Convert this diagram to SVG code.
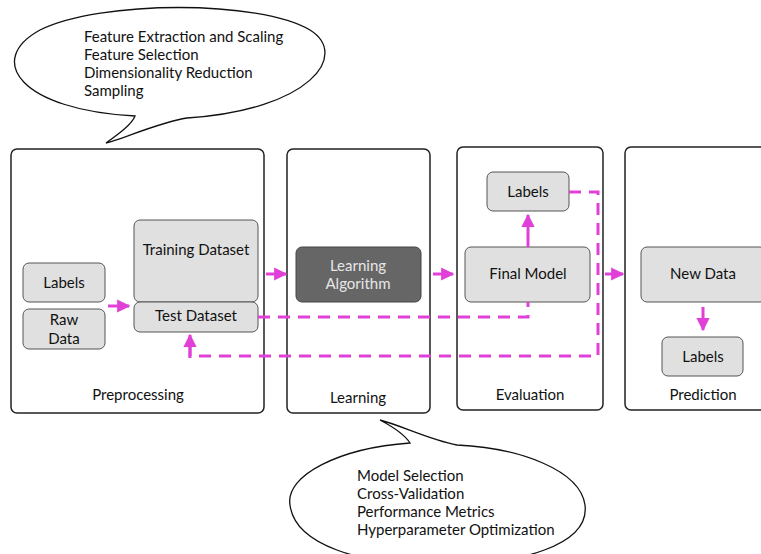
<svg xmlns="http://www.w3.org/2000/svg" width="761" height="554" viewBox="0 0 761 554">
<defs>
<style>
text{font-family:Lato,"Open Sans","DejaVu Sans",sans-serif;font-size:15px;fill:#111}
.stage{fill:#fff;stroke:#222;stroke-width:1.5}
.node{fill:#e0e0e0;stroke:#555;stroke-width:1}
.dark{fill:#666;stroke:#444;stroke-width:1}
.c{text-anchor:middle}
.flow{fill:none;stroke:#e040d8;stroke-width:3}
.dash{fill:none;stroke:#e040d8;stroke-width:3;stroke-dasharray:12 8}
.bubble{fill:#fff;stroke:#111;stroke-width:1.3}
</style>
<marker id="ah" viewBox="0 0 10 10" refX="9" refY="5" markerWidth="4.4" markerHeight="4.4" orient="auto" markerUnits="strokeWidth">
<path d="M0,0 L10,5 L0,10 z" fill="#e040d8"/>
</marker>
</defs>
<rect width="761" height="554" fill="#fff"/>

<g id="bubble-top">
<path class="bubble" d="M135,116 C20,110 -15,60 40,30 C100,0 260,0 310,30 C350,55 310,110 187,118 C160,122 120,140 106,143 C120,133 132,124 135,116 z"/>
<text x="84" y="42">Feature Extraction and Scaling</text>
<text x="84" y="60">Feature Selection</text>
<text x="84" y="78">Dimensionality Reduction</text>
<text x="84" y="96">Sampling</text>
</g>

<g id="preprocessing">
<rect class="stage" x="11" y="149" width="253" height="264" rx="6"/>
<text class="c" x="138" y="400">Preprocessing</text>
</g>
<g id="labels-raw"><rect class="node" x="23" y="263" width="82" height="39" rx="6"/><text class="c" x="64" y="288">Labels</text></g>
<g id="raw-data"><rect class="node" x="23" y="309" width="82" height="40" rx="6"/><text class="c" x="64" y="325">Raw</text><text class="c" x="64" y="344">Data</text></g>
<g id="training"><rect class="node" x="134" y="220" width="124" height="82" rx="6"/><text class="c" x="196" y="255">Training Dataset</text></g>
<g id="test"><rect class="node" x="134" y="302" width="124" height="30" rx="6"/><text class="c" x="196" y="321">Test Dataset</text></g>

<g id="learning">
<rect class="stage" x="287" y="149" width="143" height="264" rx="6"/>
<text class="c" x="358" y="403">Learning</text>
</g>
<g id="algorithm"><rect class="dark" x="296" y="247" width="125" height="55" rx="6"/><text class="c" x="358" y="271" style="fill:#e6e6e6">Learning</text><text class="c" x="358" y="289" style="fill:#e6e6e6">Algorithm</text></g>

<g id="evaluation">
<rect class="stage" x="457" y="147" width="146" height="263" rx="6"/>
<text class="c" x="530" y="400">Evaluation</text>
</g>
<g id="labels-eval"><rect class="node" x="487" y="172" width="82" height="39" rx="6"/><text class="c" x="528" y="197">Labels</text></g>
<g id="final-model"><rect class="node" x="465" y="247" width="125" height="55" rx="6"/><text class="c" x="528" y="279">Final Model</text></g>

<g id="prediction">
<rect class="stage" x="625" y="147" width="150" height="263" rx="6"/>
<text class="c" x="703" y="400">Prediction</text>
</g>
<g id="new-data"><rect class="node" x="641" y="247" width="125" height="55" rx="6"/><text class="c" x="703" y="279">New Data</text></g>
<g id="labels-pred"><rect class="node" x="662" y="337" width="81" height="39" rx="6"/><text class="c" x="703" y="362">Labels</text></g>

<g id="connectors">
<line class="flow" x1="108" y1="306" x2="129" y2="306" marker-end="url(#ah)"/>
<line class="flow" x1="266" y1="274" x2="286" y2="274" marker-end="url(#ah)"/>
<line class="flow" x1="433" y1="274" x2="453" y2="274" marker-end="url(#ah)"/>
<line class="flow" x1="605" y1="274" x2="623" y2="274" marker-end="url(#ah)"/>
<line class="flow" x1="528" y1="247" x2="528" y2="215" marker-end="url(#ah)"/>
<line class="flow" x1="703" y1="307" x2="703" y2="330" marker-end="url(#ah)"/>
<path class="dash" d="M258,317 L528,317 L528,302"/>
<path class="dash" d="M569,192 L598,192 L598,356 L190,356 L190,345"/>
<path class="flow" d="M190,358 L190,335" marker-end="url(#ah)"/>
</g>

<g id="bubble-bottom">
<path class="bubble" d="M410,443 C340,448 285,475 290,505 C295,545 360,565 440,565 C520,565 590,545 585,505 C580,470 520,448 457,445 C430,440 400,425 380,420 C395,428 405,435 410,443 z"/>
<text x="357" y="481">Model Selection</text>
<text x="357" y="499">Cross-Validation</text>
<text x="357" y="517">Performance Metrics</text>
<text x="357" y="535">Hyperparameter Optimization</text>
</g>
</svg>
